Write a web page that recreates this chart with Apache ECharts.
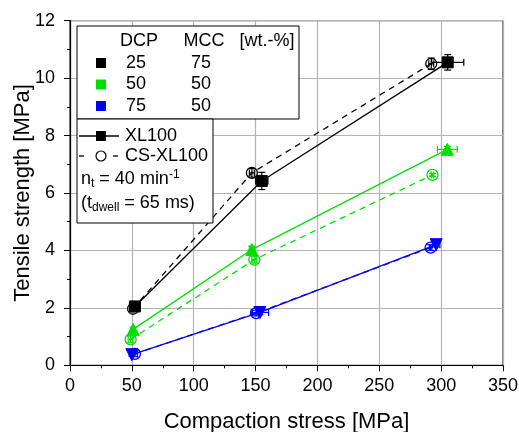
<!DOCTYPE html>
<html>
<head>
<meta charset="utf-8">
<script src="https://cdn.jsdelivr.net/npm/echarts@6/dist/echarts.min.js"></script>
<style>html,body{margin:0;padding:0;background:#fff}#c{width:519px;height:432px}</style>
</head>
<body>
<div id="c"></div>
<script>
// ---- data ----
const xTicks = [0, 50, 100, 150, 200, 250, 300, 350];
const yTicks = [0, 2, 4, 6, 8, 10, 12];

const blackXL_x = [52.5, 155, 305.3];
const blackXL_y = [2.05, 6.42, 10.55];
const blackXL_xe = [2, 5, 13];
const blackXL_ye = [0.1, 0.3, 0.27];

const blackCS_x = [51, 147, 292];
const blackCS_y = [1.97, 6.7, 10.5];
const blackCS_xe = [1, 2, 2];
const blackCS_ye = [0.1, 0.15, 0.2];

const greenXL_x = [51, 147, 305];
const greenXL_y = [1.25, 4.03, 7.52];
const greenXL_xe = [1, 2, 8];
const greenXL_ye = [0.08, 0.12, 0.1];

const greenCS_x = [49, 149, 293];
const greenCS_y = [0.9, 3.68, 6.63];
const greenCS_xe = [2, 2, 1];
const greenCS_ye = [0.12, 0.12, 0.05];

const blueXL_x = [50, 153.5, 296];
const blueXL_y = [0.37, 1.84, 4.2];
const blueXL_xe = [1, 7, 3];
const blueXL_ye = [0.05, 0.08, 0.08];

const blueCS_x = [52.5, 150.5, 291.5];
const blueCS_y = [0.4, 1.82, 4.1];
const blueCS_xe = [2, 3, 1];
const blueCS_ye = [0.1, 0.1, 0.1];

const compositionHeader = ['DCP', 'MCC', '[wt.-%]'];
const compositionRows = [['25', '75'], ['50', '50'], ['75', '50']];

// ---- styles ----
const BLACK = '#000000', GREEN = '#00e000', BLUE = '#0000ff';
const FONT = 'Liberation Sans, Arial, sans-serif';

function pts(xs, ys) { return xs.map((x, i) => [x, ys[i]]); }
function errPts(xs, ys, xe, ye) { return xs.map((x, i) => [x, ys[i], xe[i], ye[i]]); }

function errSeries(xs, ys, xe, ye, color) {
  return {
    type: 'custom',
    data: errPts(xs, ys, xe, ye),
    z: 3,
    silent: true,
    renderItem: function (params, api) {
      const x = api.value(0), y = api.value(1), dx = api.value(2), dy = api.value(3);
      const l = api.coord([x - dx, y]), r = api.coord([x + dx, y]);
      const t = api.coord([x, y + dy]), b = api.coord([x, y - dy]);
      const c = 3.5;
      const st = { stroke: color, lineWidth: 1.2 };
      return {
        type: 'group',
        children: [
          { type: 'line', shape: { x1: l[0], y1: l[1], x2: r[0], y2: r[1] }, style: st },
          { type: 'line', shape: { x1: l[0], y1: l[1] - c, x2: l[0], y2: l[1] + c }, style: st },
          { type: 'line', shape: { x1: r[0], y1: r[1] - c, x2: r[0], y2: r[1] + c }, style: st },
          { type: 'line', shape: { x1: t[0], y1: t[1], x2: b[0], y2: b[1] }, style: st },
          { type: 'line', shape: { x1: t[0] - c, y1: t[1], x2: t[0] + c, y2: t[1] }, style: st },
          { type: 'line', shape: { x1: b[0] - c, y1: b[1], x2: b[0] + c, y2: b[1] }, style: st }
        ]
      };
    }
  };
}

function lineSeries(xs, ys, color, dashed, symbol, size, filled, rotate) {
  return {
    type: 'line',
    data: pts(xs, ys),
    symbol: symbol,
    symbolSize: size,
    symbolRotate: rotate || 0,
    showAllSymbol: true,
    z: filled ? 4 : 5,
    lineStyle: { color: color, width: 1.3, type: dashed ? [6, 5] : 'solid' },
    itemStyle: filled ? { color: color, borderColor: color, borderWidth: 1 }
                      : { color: 'rgba(255,255,255,0)', borderColor: color, borderWidth: 1.3 },
    emphasis: { disabled: true },
    animation: false
  };
}

const chart = echarts.init(document.getElementById('c'), null, { renderer: 'canvas' });

// legend graphics
const g = [];
const L1 = { x: 77, y: 26, w: 222, h: 93 };
const L2 = { x: 77, y: 119, w: 136, h: 104 };
g.push({ type: 'rect', shape: { x: L1.x, y: L1.y, width: L1.w, height: L1.h }, style: { fill: '#fff', stroke: '#000', lineWidth: 1 }, z: 100 });
g.push({ type: 'rect', shape: { x: L2.x, y: L2.y, width: L2.w, height: L2.h }, style: { fill: '#fff', stroke: '#000', lineWidth: 1 }, z: 100 });
const hdrX = [139, 204, 267];
compositionHeader.forEach((t, i) => {
  g.push({ type: 'text', x: hdrX[i], y: 41, style: { text: t, font: '18px ' + FONT, fill: '#000', align: 'center', verticalAlign: 'middle' }, z: 101 });
});
const rowY = [63, 84.5, 106];
const rowCol = [BLACK, GREEN, BLUE];
compositionRows.forEach((r, i) => {
  g.push({ type: 'rect', shape: { x: 96, y: rowY[i] - 5, width: 10, height: 10 }, style: { fill: rowCol[i] }, z: 101 });
  g.push({ type: 'text', x: 136, y: rowY[i], style: { text: r[0], font: '18px ' + FONT, fill: '#000', align: 'center', verticalAlign: 'middle' }, z: 101 });
  g.push({ type: 'text', x: 201, y: rowY[i], style: { text: r[1], font: '18px ' + FONT, fill: '#000', align: 'center', verticalAlign: 'middle' }, z: 101 });
});
// XL100 row
g.push({ type: 'line', shape: { x1: 79, y1: 136, x2: 119, y2: 136 }, style: { stroke: '#000', lineWidth: 1.3 }, z: 101 });
g.push({ type: 'rect', shape: { x: 96, y: 131, width: 10, height: 10 }, style: { fill: '#000' }, z: 102 });
g.push({ type: 'text', x: 125, y: 136, style: { text: 'XL100', font: '18px ' + FONT, fill: '#000', verticalAlign: 'middle' }, z: 101 });
// CS-XL100 row
g.push({ type: 'line', shape: { x1: 79, y1: 156, x2: 84, y2: 156 }, style: { stroke: '#000', lineWidth: 1.3 }, z: 101 });
g.push({ type: 'line', shape: { x1: 113, y1: 156, x2: 118, y2: 156 }, style: { stroke: '#000', lineWidth: 1.3 }, z: 101 });
g.push({ type: 'circle', shape: { cx: 101, cy: 156, r: 5 }, style: { fill: '#fff', stroke: '#000', lineWidth: 1.2 }, z: 102 });
g.push({ type: 'text', x: 125, y: 156, style: { text: 'CS-XL100', font: '18px ' + FONT, fill: '#000', verticalAlign: 'middle' }, z: 101 });
// n_t row
g.push({ type: 'text', x: 81, y: 179, style: {
  text: 'n{sub|t} = 40 min{sup|-1}',
  font: '18px ' + FONT, fill: '#000', verticalAlign: 'middle',
  rich: { sub: { font: '12px ' + FONT, padding: [10, 0, 0, 0], fill: '#000' }, sup: { font: '12px ' + FONT, padding: [0, 0, 9, 0], fill: '#000' } }
}, z: 101 });
g.push({ type: 'text', x: 81, y: 203, style: {
  text: '(t{sub|dwell} = 65 ms)',
  font: '18px ' + FONT, fill: '#000', verticalAlign: 'middle',
  rich: { sub: { font: '12px ' + FONT, padding: [10, 0, 0, 0], fill: '#000' } }
}, z: 101 });

const option = {
  backgroundColor: '#fff',
  animation: false,
  grid: { left: 70, right: 16, top: 20.7, bottom: 66.7, show: true, borderColor: '#000', borderWidth: 1, containLabel: false, outerBoundsMode: 'none' },
  xAxis: {
    type: 'value', min: xTicks[0], max: xTicks[xTicks.length - 1], interval: 50,
    name: 'Compaction stress [MPa]', nameLocation: 'middle', nameGap: 46,
    nameTextStyle: { fontSize: 22, fontFamily: FONT, color: '#000' },
    axisLine: { show: true, lineStyle: { color: '#000', width: 1.2 } },
    axisTick: { show: true, inside: false, length: 6, lineStyle: { color: '#000' } },
    minorTick: { show: true, splitNumber: 2, length: 3, lineStyle: { color: '#000' } },
    axisLabel: { fontSize: 18, fontFamily: FONT, color: '#000', margin: 12 },
    splitLine: { show: true, lineStyle: { color: '#b4b4b4', width: 1.2 } }
  },
  yAxis: {
    type: 'value', min: yTicks[0], max: yTicks[yTicks.length - 1], interval: 2,
    name: 'Tensile strength [MPa]', nameLocation: 'middle', nameGap: 36, nameMoveOverlap: false,
    nameTextStyle: { fontSize: 22, fontFamily: FONT, color: '#000' },
    axisLine: { show: true, lineStyle: { color: '#000', width: 1.2 } },
    axisTick: { show: true, inside: false, length: 6, lineStyle: { color: '#000' } },
    minorTick: { show: true, splitNumber: 2, length: 3, lineStyle: { color: '#000' } },
    axisLabel: { fontSize: 18, fontFamily: FONT, color: '#000', margin: 15 },
    splitLine: { show: true, lineStyle: { color: '#b4b4b4', width: 1.2 } }
  },
  graphic: g,
  series: [
    errSeries(blueXL_x, blueXL_y, blueXL_xe, blueXL_ye, BLUE),
    errSeries(blueCS_x, blueCS_y, blueCS_xe, blueCS_ye, BLUE),
    lineSeries(blueXL_x, blueXL_y, BLUE, false, 'triangle', 12, true, 180),
    lineSeries(blueCS_x, blueCS_y, BLUE, true, 'circle', 11, false),
    errSeries(greenXL_x, greenXL_y, greenXL_xe, greenXL_ye, GREEN),
    errSeries(greenCS_x, greenCS_y, greenCS_xe, greenCS_ye, GREEN),
    lineSeries(greenXL_x, greenXL_y, GREEN, false, 'triangle', 12, true),
    lineSeries(greenCS_x, greenCS_y, GREEN, true, 'circle', 11, false),
    errSeries(blackXL_x, blackXL_y, blackXL_xe, blackXL_ye, BLACK),
    errSeries(blackCS_x, blackCS_y, blackCS_xe, blackCS_ye, BLACK),
    lineSeries(blackXL_x, blackXL_y, BLACK, false, 'rect', 11, true),
    lineSeries(blackCS_x, blackCS_y, BLACK, true, 'circle', 11, false)
  ]
};
chart.setOption(option);
</script>
</body>
</html>
